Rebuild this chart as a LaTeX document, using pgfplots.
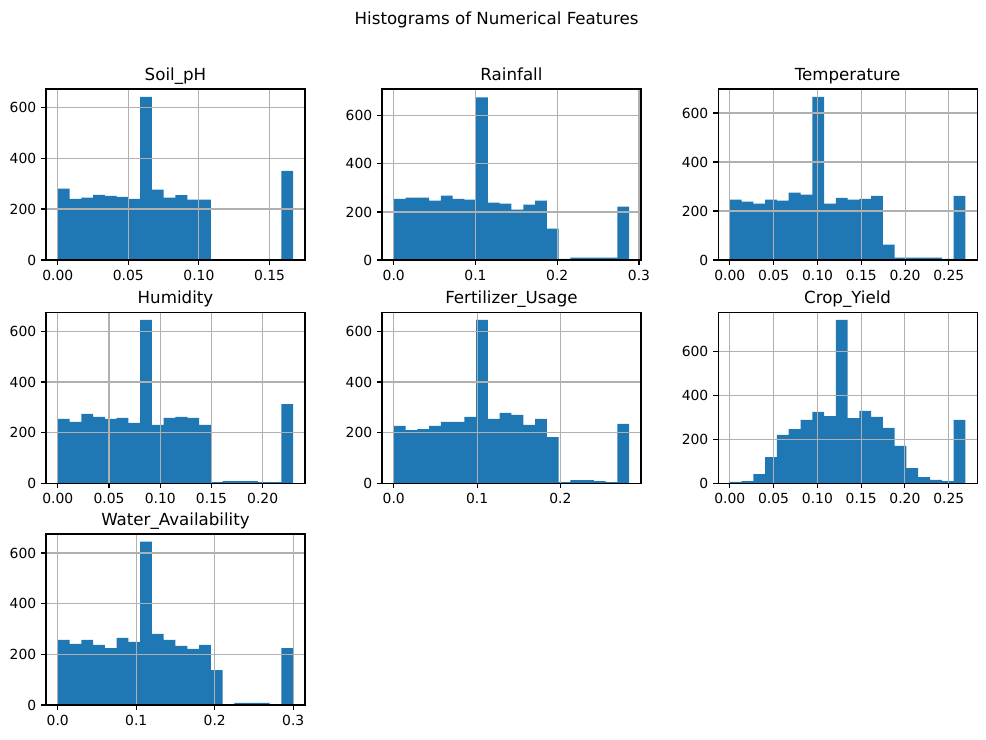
\documentclass[border=0pt]{standalone}
\usepackage{fontspec}
\setmainfont{DejaVu Sans}
\usepackage{pgfplots}
\pgfplotsset{compat=1.18}
\definecolor{barblue}{HTML}{1F77B4}
\definecolor{gridgray}{HTML}{B0B0B0}
\pgfplotsset{
  hstyle/.style={
    width=186.5pt, height=123.1pt, scale only axis,
    anchor=south west, axis on top,
    ymin=0,
    grid=major,
    grid style={color=gridgray, line width=0.8pt},
    axis line style={line width=0.8pt, black},
    tick align=outside, major tick length=3.5pt,
    tick style={black, line width=0.8pt},
    xtick pos=bottom, ytick pos=left,
    ytick={0,200,400,600}, yticklabels={0,200,400,600},
    tick label style={font=\fontsize{10}{12}\selectfont},
    title style={font=\fontsize{12}{14}\selectfont, at={(0.5,1)}, anchor=base, yshift=0.3pt, inner sep=0pt},
  },
  hbar/.style={ybar interval, fill=barblue, draw=none},
}
\begin{document}
\begin{tikzpicture}
\path[use as bounding box] (0,0) rectangle (709.9pt,532.1pt);
\node[anchor=base, font=\fontsize{12}{14}\selectfont] at (357.5pt,514.8pt) {Histograms of Numerical Features};

% Soil_pH
\begin{axis}[hstyle, at={(33.1pt,344.9pt)}, title={Soil\_pH},
  xmin=-0.00834, xmax=0.17514, ymax=671,
  xtick={0,0.05,0.10,0.15}, xticklabels={0.00,0.05,0.10,0.15}]
\addplot[hbar] coordinates {
(0,280) (0.00834,240) (0.01668,245) (0.02502,256) (0.03336,252) (0.0417,248)
(0.05004,240) (0.05838,640) (0.06672,276) (0.07506,245) (0.0834,255) (0.09174,237)
(0.10008,237) (0.10842,0) (0.11676,0) (0.1251,0) (0.13344,0) (0.14178,0)
(0.15012,0) (0.15846,350) (0.1668,350)};
\end{axis}

% Rainfall
\begin{axis}[hstyle, at={(275.0pt,344.9pt)}, title={Rainfall},
  xmin=-0.0144, xmax=0.3024, ymax=712,
  xtick={0,0.1,0.2,0.3}, xticklabels={0.0,0.1,0.2,0.3}]
\addplot[hbar] coordinates {
(0,255) (0.0144,260) (0.0288,260) (0.0432,247) (0.0576,268) (0.072,255)
(0.0864,251) (0.1008,677) (0.1152,239) (0.1296,235) (0.144,210) (0.1584,231)
(0.1728,247) (0.1872,131) (0.2016,5) (0.216,10) (0.2304,10) (0.2448,10)
(0.2592,10) (0.2736,222) (0.288,222)};
\end{axis}

% Temperature
\begin{axis}[hstyle, at={(517.0pt,344.9pt)}, title={Temperature},
  xmin=-0.01344, xmax=0.28224, ymax=698,
  xtick={0,0.05,0.10,0.15,0.20,0.25}, xticklabels={0.00,0.05,0.10,0.15,0.20,0.25}]
\addplot[hbar] coordinates {
(0,246) (0.01344,238) (0.02688,230) (0.04032,246) (0.05376,242) (0.0672,275)
(0.08064,267) (0.09408,666) (0.10752,230) (0.12096,254) (0.1344,246) (0.14784,250)
(0.16128,262) (0.17472,63) (0.18816,10) (0.2016,10) (0.21504,10) (0.22848,10)
(0.24192,5) (0.25536,262) (0.2688,262)};
\end{axis}

% Humidity
\begin{axis}[hstyle, at={(33.1pt,184.3pt)}, title={Humidity},
  xmin=-0.01149, xmax=0.24129, ymax=677,
  xtick={0,0.05,0.10,0.15,0.20}, xticklabels={0.00,0.05,0.10,0.15,0.20}]
\addplot[hbar] coordinates {
(0,254) (0.01149,242) (0.02298,274) (0.03447,262) (0.04596,254) (0.05745,258)
(0.06894,238) (0.08043,646) (0.09192,230) (0.10341,258) (0.1149,262) (0.12639,258)
(0.13788,230) (0.14937,4) (0.16086,8) (0.17235,8) (0.18384,8) (0.19533,4)
(0.20682,4) (0.21831,313) (0.2298,313)};
\end{axis}

% Fertilizer_Usage
\begin{axis}[hstyle, at={(275.0pt,184.3pt)}, title={Fertilizer\_Usage},
  xmin=-0.01413, xmax=0.29673, ymax=677,
  xtick={0,0.1,0.2}, xticklabels={0.0,0.1,0.2}]
\addplot[hbar] coordinates {
(0,226) (0.01413,210) (0.02826,214) (0.04239,226) (0.05652,242) (0.07065,242)
(0.08478,262) (0.09891,646) (0.11304,254) (0.12717,278) (0.1413,270) (0.15543,230)
(0.16956,254) (0.18369,182) (0.19782,4) (0.21195,12) (0.22608,12) (0.24021,8)
(0.25434,4) (0.26847,234) (0.2826,234)};
\end{axis}

% Crop_Yield
\begin{axis}[hstyle, at={(517.0pt,184.3pt)}, title={Crop\_Yield},
  xmin=-0.01345, xmax=0.28245, ymax=778,
  xtick={0,0.05,0.10,0.15,0.20,0.25}, xticklabels={0.00,0.05,0.10,0.15,0.20,0.25}]
\addplot[hbar] coordinates {
(0,5) (0.01345,9) (0.0269,41) (0.04035,118) (0.0538,219) (0.06725,246)
(0.0807,287) (0.09415,324) (0.1076,305) (0.12105,743) (0.1345,296) (0.14795,328)
(0.1614,301) (0.17485,251) (0.1883,169) (0.20175,68) (0.2152,27) (0.22865,14)
(0.2421,9) (0.25555,287) (0.269,287)};
\end{axis}

% Water_Availability
\begin{axis}[hstyle, at={(33.1pt,24.5pt)}, title={Water\_Availability},
  xmin=-0.015, xmax=0.315, ymax=675,
  xtick={0,0.1,0.2,0.3}, xticklabels={0.0,0.1,0.2,0.3}]
\addplot[hbar] coordinates {
(0,257) (0.015,241) (0.03,257) (0.045,237) (0.06,225) (0.075,265)
(0.09,249) (0.105,645) (0.12,281) (0.135,257) (0.15,233) (0.165,222)
(0.18,237) (0.195,138) (0.21,4) (0.225,8) (0.24,8) (0.255,8)
(0.27,4) (0.285,225) (0.3,225)};
\end{axis}
\end{tikzpicture}
\end{document}
